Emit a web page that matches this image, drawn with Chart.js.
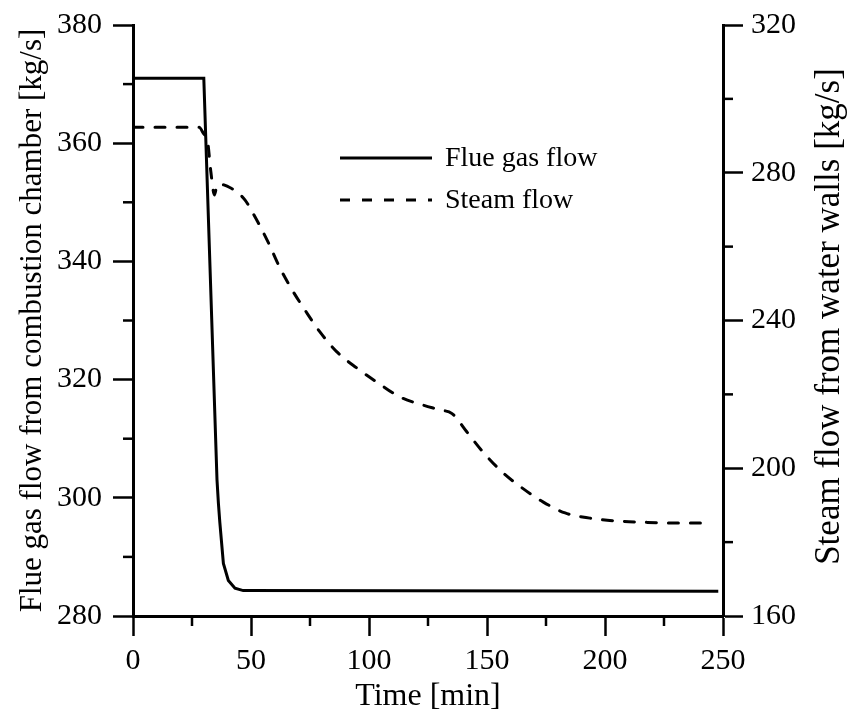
<!DOCTYPE html>
<html>
<head>
<meta charset="utf-8">
<script src="https://cdn.jsdelivr.net/npm/chart.js@4"></script>
<style>
    body { margin: 0; background: #fff; }
    canvas { display: block; }
</style>
</head>
<body>
<canvas id="chart" width="849" height="718"></canvas>
<script>
// Donnees
const flueTime = [0, 30, 35.6, 36.2, 36.8, 38.3, 40.4, 43.2, 46.7, 248];
const flueGas = [371, 371, 303, 299, 295.8, 288.9, 286, 284.7, 284.3, 284.2];

const steamTime = [0, 28, 30, 31.5, 33, 34.5, 35.5, 37, 38.5, 41, 44, 47.5, 50.8, 57.2, 62.3, 67.4, 72.9, 79.2, 86.4, 94.9, 103.8, 113.1, 122.9, 130, 135.2, 141.5, 148.3, 156.4, 164.8, 173.7, 183.1, 193.6, 205.1, 215.7, 226.7, 243];
const steamFlow = [292.3, 292.3, 290.5, 288.9, 280.2, 274, 276.4, 277, 276.7, 276, 274.8, 272.6, 269.1, 261.3, 254.2, 248.3, 242.8, 236.9, 231.5, 227.1, 223.1, 219.3, 217.1, 215.8, 214.8, 209.8, 204.4, 199, 194.7, 190.9, 187.9, 186.5, 185.7, 185.4, 185.2, 185.2];

const seriesLabels = ['Flue gas flow', 'Steam flow'];
const xTitle = 'Time [min]';
const yTitle = 'Flue gas flow from combustion chamber [kg/s]';
const y1Title = 'Steam flow from water walls [kg/s]';

const FONT = 'Liberation Serif, Times New Roman, serif';

function isMajor(id, v) {
    if (id === 'x') return v % 50 === 0;
    if (id === 'y') return v % 20 === 0;
    return v % 40 === 0;
}

// Ticks mineurs plus courts (Chart.js ne les gere pas)
const minorTicks = {
    id: 'minorTicks',
    afterDraw(chart) {
        const ctx = chart.ctx;
        ctx.save();
        ctx.strokeStyle = '#000';
        ctx.lineWidth = 2.5;
        for (const id of ['x', 'y', 'y1']) {
            const s = chart.scales[id];
            s.ticks.forEach(t => {
                if (isMajor(id, t.value)) return;
                const p = s.getPixelForValue(t.value);
                ctx.beginPath();
                if (id === 'x') {
                    ctx.moveTo(p, s.top); ctx.lineTo(p, s.top + 10);
                } else if (id === 'y') {
                    ctx.moveTo(s.right, p); ctx.lineTo(s.right - 10, p);
                } else {
                    ctx.moveTo(s.left, p); ctx.lineTo(s.left + 10, p);
                }
                ctx.stroke();
            });
        }
        ctx.restore();
    }
};

// Titre de l'axe droit, lu de bas en haut comme a gauche
const rightTitle = {
    id: 'rightTitle',
    afterDraw(chart) {
        const ctx = chart.ctx;
        const area = chart.chartArea;
        ctx.save();
        ctx.translate(830, (area.top + area.bottom) / 2 - 4);
        ctx.rotate(-Math.PI / 2);
        ctx.font = '35px ' + FONT;
        ctx.fillStyle = '#000';
        ctx.textAlign = 'center';
        ctx.textBaseline = 'middle';
        ctx.fillText(y1Title, 0, 0);
        ctx.restore();
    }
};

// Legende dessinee dans la zone du graphique
const innerLegend = {
    id: 'innerLegend',
    afterDraw(chart) {
        const ctx = chart.ctx;
        ctx.save();
        ctx.font = '28px ' + FONT;
        ctx.fillStyle = '#000';
        ctx.textBaseline = 'middle';
        chart.data.datasets.forEach((ds, i) => {
            const y = 158 + i * 42;
            ctx.beginPath();
            ctx.lineWidth = ds.borderWidth;
            ctx.strokeStyle = ds.borderColor;
            ctx.setLineDash(ds.borderDash || []);
            ctx.moveTo(340, y);
            ctx.lineTo(432, y);
            ctx.stroke();
            ctx.setLineDash([]);
            ctx.fillText(ds.label, 445, y + 1);
        });
        ctx.restore();
    }
};

function gridOpts(id) {
    return {
        display: true,
        drawOnChartArea: false,
        drawTicks: true,
        tickLength: 20,
        tickWidth: 2.5,
        tickColor: (c) => isMajor(id, c.tick.value) ? '#000' : 'rgba(0,0,0,0)'
    };
}

function fixY(width) {
    return (s) => { s.width = width; s.paddingTop = 0; s.paddingBottom = 0; };
}

const ctx = document.getElementById('chart').getContext('2d');
new Chart(ctx, {
    type: 'line',
    data: {
        datasets: [{
            label: seriesLabels[0],
            data: flueTime.map((t, i) => ({ x: t, y: flueGas[i] })),
            borderColor: '#000',
            borderWidth: 3,
            pointRadius: 0,
            tension: 0,
            yAxisID: 'y'
        }, {
            label: seriesLabels[1],
            data: steamTime.map((t, i) => ({ x: t, y: steamFlow[i] })),
            borderColor: '#000',
            borderWidth: 3,
            borderDash: [10, 12],
            borderCapStyle: 'round',
            pointRadius: 0,
            cubicInterpolationMode: 'monotone',
            yAxisID: 'y1'
        }]
    },
    options: {
        responsive: false,
        animation: false,
        layout: { padding: { top: 25 } },
        plugins: { legend: { display: false }, tooltip: { enabled: false } },
        scales: {
            x: {
                type: 'linear',
                min: 0, max: 250,
                grid: gridOpts('x'),
                border: { display: true, color: '#000', width: 3 },
                ticks: {
                    stepSize: 25,
                    color: '#000',
                    font: { family: FONT, size: 30 },
                    padding: 7,
                    maxRotation: 0,
                    autoSkip: false,
                    callback: (v) => v % 50 === 0 ? v : ''
                },
                title: {
                    display: true, text: xTitle, color: '#000',
                    font: { family: FONT, size: 32 },
                    padding: { top: 0, bottom: 2 }
                },
                afterFit: (s) => { s.height = 102; s.paddingLeft = 0; s.paddingRight = 0; }
            },
            y: {
                position: 'left',
                min: 280, max: 380,
                grid: gridOpts('y'),
                border: { display: true, color: '#000', width: 3 },
                ticks: {
                    stepSize: 10,
                    color: '#000',
                    font: { family: FONT, size: 30 },
                    padding: 11,
                    autoSkip: false,
                    callback: (v) => v % 20 === 0 ? v : ''
                },
                title: {
                    display: true, text: yTitle, color: '#000',
                    font: { family: FONT, size: 31 },
                    padding: { top: 14, bottom: 0 }
                },
                afterFit: fixY(133)
            },
            y1: {
                position: 'right',
                min: 160, max: 320,
                grid: gridOpts('y1'),
                border: { display: true, color: '#000', width: 3 },
                ticks: {
                    stepSize: 20,
                    color: '#000',
                    font: { family: FONT, size: 30 },
                    padding: 8,
                    autoSkip: false,
                    callback: (v) => v % 40 === 0 ? v : ''
                },
                title: { display: false },
                afterFit: fixY(126)
            }
        }
    },
    plugins: [minorTicks, rightTitle, innerLegend]
});
</script>
</body>
</html>
